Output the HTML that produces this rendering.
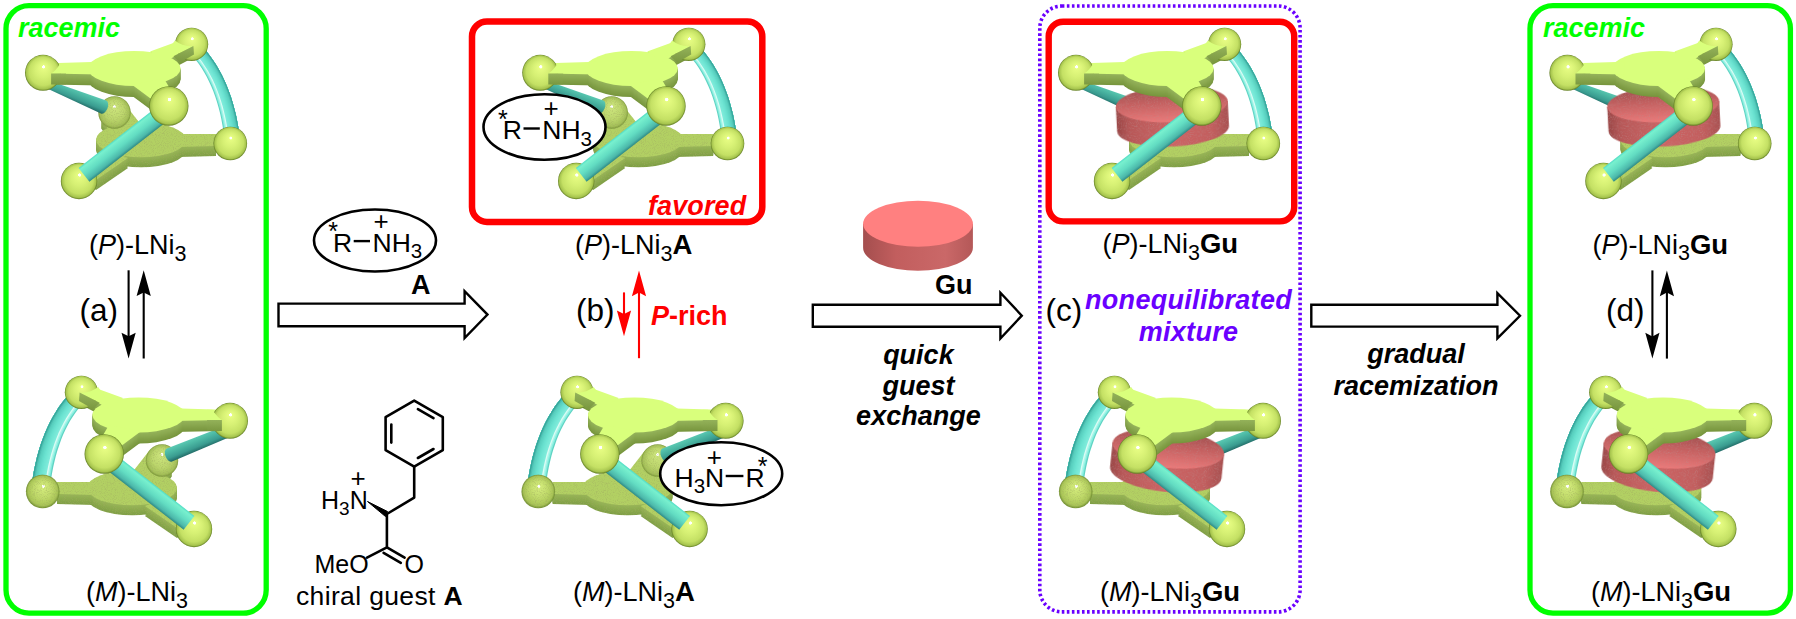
<!DOCTYPE html>
<html><head><meta charset="utf-8">
<style>
html,body{margin:0;padding:0;background:#fff;overflow:hidden;}
svg{display:block;}
text{font-family:"Liberation Sans",sans-serif;}
</style></head>
<body>
<svg width="1796" height="619" viewBox="0 0 1796 619">
<rect width="1796" height="619" fill="#fff"/>

<defs>

<radialGradient id="sph" cx="0.5" cy="0.5" r="0.5" fx="0.52" fy="0.32">
  <stop offset="0" stop-color="#ffffff"/>
  <stop offset="0.075" stop-color="#ffffff"/>
  <stop offset="0.1" stop-color="#e6fc82"/>
  <stop offset="0.45" stop-color="#d6f074"/>
  <stop offset="0.78" stop-color="#c4e064"/>
  <stop offset="0.93" stop-color="#a6c44e"/>
  <stop offset="1" stop-color="#607c22"/>
</radialGradient>
<radialGradient id="sphB" cx="0.5" cy="0.5" r="0.5" fx="0.5" fy="0.3">
  <stop offset="0" stop-color="#ffffff"/>
  <stop offset="0.07" stop-color="#ffffff"/>
  <stop offset="0.1" stop-color="#cce47c"/>
  <stop offset="0.6" stop-color="#bcd66c"/>
  <stop offset="0.9" stop-color="#a4c058"/>
  <stop offset="1" stop-color="#7a9638"/>
</radialGradient>
<radialGradient id="sphM" cx="0.5" cy="0.5" r="0.5" fx="0.52" fy="0.33">
  <stop offset="0" stop-color="#ffffff"/>
  <stop offset="0.075" stop-color="#ffffff"/>
  <stop offset="0.1" stop-color="#d4ec7c"/>
  <stop offset="0.55" stop-color="#c0da6a"/>
  <stop offset="0.88" stop-color="#a8c456"/>
  <stop offset="1" stop-color="#6e8c30"/>
</radialGradient>
<linearGradient id="sideG" x1="0" y1="0" x2="0" y2="1">
  <stop offset="0" stop-color="#94b25a"/>
  <stop offset="1" stop-color="#7a9840"/>
</linearGradient>
<linearGradient id="tubeF" x1="0" y1="0" x2="0" y2="1">
  <stop offset="0" stop-color="#50dcc6"/>
  <stop offset="0.12" stop-color="#78f0ce"/>
  <stop offset="0.5" stop-color="#62dcc2"/>
  <stop offset="0.84" stop-color="#4cb8aa"/>
  <stop offset="1" stop-color="#2e8a86"/>
</linearGradient>
<linearGradient id="tubeB" x1="0" y1="0" x2="0" y2="1">
  <stop offset="0" stop-color="#5ccab4"/>
  <stop offset="0.3" stop-color="#4cb8a4"/>
  <stop offset="0.7" stop-color="#3a9c90"/>
  <stop offset="1" stop-color="#226a66"/>
</linearGradient>
<filter id="grain" x="0" y="0" width="1" height="1">
  <feTurbulence type="fractalNoise" baseFrequency="1.1" numOctaves="1" seed="4" result="n"/>
  <feColorMatrix in="n" type="matrix" values="0 0 0 0 0.35  0 0 0 0 0.4  0 0 0 0 0.12  0 0 0 -1.6 0.85" result="a"/>
  <feComposite in="a" in2="SourceGraphic" operator="in" result="d"/>
  <feMerge><feMergeNode in="SourceGraphic"/><feMergeNode in="d"/></feMerge>
</filter>
<filter id="grainR" x="0" y="0" width="1" height="1">
  <feTurbulence type="fractalNoise" baseFrequency="1.1" numOctaves="1" seed="7" result="n"/>
  <feColorMatrix in="n" type="matrix" values="0 0 0 0 0.5  0 0 0 0 0.25  0 0 0 0 0.25  0 0 0 -1.6 0.8" result="a"/>
  <feComposite in="a" in2="SourceGraphic" operator="in" result="d"/>
  <feMerge><feMergeNode in="SourceGraphic"/><feMergeNode in="d"/></feMerge>
</filter>
<linearGradient id="guSide" x1="0" y1="0" x2="1" y2="0">
  <stop offset="0" stop-color="#a44e4e"/>
  <stop offset="0.3" stop-color="#c25e5e"/>
  <stop offset="0.75" stop-color="#ca6868"/>
  <stop offset="1" stop-color="#b45858"/>
</linearGradient>
<linearGradient id="guSideI" x1="0" y1="0" x2="1" y2="0">
  <stop offset="0" stop-color="#9a4646"/>
  <stop offset="0.12" stop-color="#b85858"/>
  <stop offset="0.5" stop-color="#cc6464"/>
  <stop offset="0.85" stop-color="#c25e5e"/>
  <stop offset="1" stop-color="#a85050"/>
</linearGradient>
<linearGradient id="guTop" x1="0" y1="0" x2="0" y2="1">
  <stop offset="0" stop-color="#9c4c4c"/>
  <stop offset="0.45" stop-color="#c46060"/>
  <stop offset="1" stop-color="#ec7a7a"/>
</linearGradient>

<g id="topP">
<ellipse cx="134.3" cy="68.5" rx="46.3" ry="17.5"/>
<path d="M50 63.2L100 61.8L100 74.6L50 73.5Z"/>
<path d="M150 51.5L177.5 41.4L193.5 46.5L174.5 56.5L165 62Z"/>
<path d="M132 84.8L164 78.5L172 92L150.5 98.5Z"/>
</g>
<g id="botP">
<ellipse cx="141" cy="139.8" rx="45" ry="17.5"/>
<path d="M178 134L216 134L216 145.9L178 147Z"/>
<path d="M101 118L124 103L142 126L112 135Z"/>
<path d="M106 149L128 158L96 180L80 170Z"/>
</g>
<g id="topM">
<ellipse cx="138.7" cy="68.5" rx="46.3" ry="17.5"/>
<path d="M223 63.2L173 61.8L173 74.6L223 73.5Z"/>
<path d="M123 51.5L95.5 41.4L79.5 46.5L98.5 56.5L108 62Z"/>
<path d="M141 84.8L109 78.5L101 92L122.5 98.5Z"/>
</g>
<g id="botM">
<ellipse cx="132" cy="139.8" rx="45" ry="17.5"/>
<path d="M95 134L57 134L57 145.9L95 147Z"/>
<path d="M172 118L149 103L131 126L161 135Z"/>
<path d="M167 149L145 158L177 180L193 170Z"/>
</g>
<g id="molP">
<g filter="url(#grain)">
<use href="#botP" fill="#80a046" y="10"/>
<use href="#botP" fill="#82a248" y="9"/>
<use href="#botP" fill="#85a44a" y="8"/>
<use href="#botP" fill="#87a74b" y="7"/>
<use href="#botP" fill="#8aa94d" y="6"/>
<use href="#botP" fill="#8cab4f" y="5"/>
<use href="#botP" fill="#8fad51" y="4"/>
<use href="#botP" fill="#91b052" y="3"/>
<use href="#botP" fill="#94b254" y="2"/>
<use href="#botP" fill="#96b456" y="1"/>
<use href="#botP" fill="#b2d064"/>
</g>
<circle cx="114.5" cy="112.5" r="16.2" fill="url(#sphB)" filter="url(#grain)"/>
<g transform="translate(46,83.6) rotate(22.14)"><path d="M0 -4L62.1 -7A4.2 7 0 0 1 62.1 7L0 4Z" fill="url(#tubeB)"/></g>
<path d="M192.9 56.5L196 60.2L198.9 64.1L201.6 68.1L204.3 72.4L206.7 76.8L209 81.4L211.2 86.2L213.3 91.2L215.2 96.4L216.9 101.7L218.5 107.3L220 113.1L221.3 119L222.4 125.1L223.5 131.5L224.3 138L239.7 136L238.6 129.1L237.4 122.4L236.1 115.8L234.5 109.4L232.8 103.3L231 97.3L228.9 91.4L226.7 85.8L224.4 80.4L221.8 75.1L219.1 70L216.2 65.1L213.2 60.4L210 55.9L206.6 51.6L203.1 47.5Z" fill="#60d3c3"/>
<path d="M193.7 55.8L196.7 59.6L199.7 63.5L202.5 67.6L205.1 71.8L207.6 76.3L210 81L212.2 85.8L214.2 90.8L216.1 96L217.9 101.4L219.5 107L221 112.8L222.3 118.8L223.5 124.9L224.5 131.3L225.4 137.8L239.7 136L238.6 129.1L237.4 122.4L236.1 115.8L234.5 109.4L232.8 103.3L231 97.3L228.9 91.4L226.7 85.8L224.4 80.4L221.8 75.1L219.1 70L216.2 65.1L213.2 60.4L210 55.9L206.6 51.6L203.1 47.5Z" fill="#86eedf"/>
<path d="M194.4 55.2L197.5 59L200.5 62.9L203.3 67L206 71.3L208.5 75.8L210.9 80.5L213.1 85.4L215.2 90.4L217.1 95.7L218.9 101.1L220.6 106.7L222 112.5L223.4 118.5L224.6 124.7L225.6 131.1L226.5 137.7L239.7 136L238.6 129.1L237.4 122.4L236.1 115.8L234.5 109.4L232.8 103.3L231 97.3L228.9 91.4L226.7 85.8L224.4 80.4L221.8 75.1L219.1 70L216.2 65.1L213.2 60.4L210 55.9L206.6 51.6L203.1 47.5Z" fill="#adf7ea"/>
<path d="M195.1 54.6L198.3 58.3L201.3 62.3L204.1 66.5L206.8 70.8L209.4 75.3L211.8 80.1L214 85L216.2 90L218.1 95.3L219.9 100.8L221.6 106.4L223.1 112.3L224.4 118.3L225.7 124.5L226.7 131L227.6 137.6L239.7 136L238.6 129.1L237.4 122.4L236.1 115.8L234.5 109.4L232.8 103.3L231 97.3L228.9 91.4L226.7 85.8L224.4 80.4L221.8 75.1L219.1 70L216.2 65.1L213.2 60.4L210 55.9L206.6 51.6L203.1 47.5Z" fill="#dcfcf5"/>
<path d="M195.8 53.9L199 57.7L202.1 61.7L204.9 65.9L207.7 70.3L210.3 74.9L212.7 79.6L215 84.5L217.1 89.7L219.1 95L220.9 100.5L222.6 106.1L224.1 112L225.5 118.1L226.7 124.3L227.8 130.8L228.7 137.4L239.7 136L238.6 129.1L237.4 122.4L236.1 115.8L234.5 109.4L232.8 103.3L231 97.3L228.9 91.4L226.7 85.8L224.4 80.4L221.8 75.1L219.1 70L216.2 65.1L213.2 60.4L210 55.9L206.6 51.6L203.1 47.5Z" fill="#7eebdb"/>
<path d="M196.6 53.3L199.8 57.1L202.9 61.2L205.8 65.4L208.5 69.8L211.2 74.4L213.6 79.2L215.9 84.1L218.1 89.3L220.1 94.6L221.9 100.1L223.6 105.9L225.2 111.8L226.6 117.9L227.8 124.1L228.9 130.6L229.8 137.3L239.7 136L238.6 129.1L237.4 122.4L236.1 115.8L234.5 109.4L232.8 103.3L231 97.3L228.9 91.4L226.7 85.8L224.4 80.4L221.8 75.1L219.1 70L216.2 65.1L213.2 60.4L210 55.9L206.6 51.6L203.1 47.5Z" fill="#79e9d8"/>
<path d="M197.3 52.6L200.5 56.5L203.6 60.6L206.6 64.8L209.4 69.3L212 73.9L214.5 78.7L216.9 83.7L219 88.9L221.1 94.3L222.9 99.8L224.6 105.6L226.2 111.5L227.6 117.6L228.9 123.9L230 130.5L230.9 137.1L239.7 136L238.6 129.1L237.4 122.4L236.1 115.8L234.5 109.4L232.8 103.3L231 97.3L228.9 91.4L226.7 85.8L224.4 80.4L221.8 75.1L219.1 70L216.2 65.1L213.2 60.4L210 55.9L206.6 51.6L203.1 47.5Z" fill="#74e7d5"/>
<path d="M198 52L201.3 55.9L204.4 60L207.4 64.3L210.2 68.8L212.9 73.4L215.4 78.2L217.8 83.3L220 88.5L222 93.9L223.9 99.5L225.7 105.3L227.2 111.2L228.7 117.4L229.9 123.8L231 130.3L232 137L239.7 136L238.6 129.1L237.4 122.4L236.1 115.8L234.5 109.4L232.8 103.3L231 97.3L228.9 91.4L226.7 85.8L224.4 80.4L221.8 75.1L219.1 70L216.2 65.1L213.2 60.4L210 55.9L206.6 51.6L203.1 47.5Z" fill="#6fe4d3"/>
<path d="M198.7 51.4L202.1 55.3L205.2 59.4L208.2 63.7L211.1 68.2L213.8 72.9L216.4 77.8L218.7 82.9L221 88.1L223 93.6L224.9 99.2L226.7 105L228.3 111L229.7 117.2L231 123.6L232.1 130.1L233.1 136.9L239.7 136L238.6 129.1L237.4 122.4L236.1 115.8L234.5 109.4L232.8 103.3L231 97.3L228.9 91.4L226.7 85.8L224.4 80.4L221.8 75.1L219.1 70L216.2 65.1L213.2 60.4L210 55.9L206.6 51.6L203.1 47.5Z" fill="#69e1cf"/>
<path d="M199.4 50.7L202.8 54.7L206 58.8L209.1 63.2L212 67.7L214.7 72.4L217.3 77.3L219.7 82.4L221.9 87.7L224 93.2L225.9 98.9L227.7 104.7L229.3 110.7L230.8 117L232.1 123.4L233.2 129.9L234.2 136.7L239.7 136L238.6 129.1L237.4 122.4L236.1 115.8L234.5 109.4L232.8 103.3L231 97.3L228.9 91.4L226.7 85.8L224.4 80.4L221.8 75.1L219.1 70L216.2 65.1L213.2 60.4L210 55.9L206.6 51.6L203.1 47.5Z" fill="#64dbca"/>
<path d="M200.2 50.1L203.6 54.1L206.8 58.3L209.9 62.6L212.8 67.2L215.6 72L218.2 76.9L220.6 82L222.9 87.3L225 92.9L226.9 98.5L228.7 104.4L230.4 110.5L231.8 116.7L233.2 123.2L234.3 129.8L235.3 136.6L239.7 136L238.6 129.1L237.4 122.4L236.1 115.8L234.5 109.4L232.8 103.3L231 97.3L228.9 91.4L226.7 85.8L224.4 80.4L221.8 75.1L219.1 70L216.2 65.1L213.2 60.4L210 55.9L206.6 51.6L203.1 47.5Z" fill="#5ed5c4"/>
<path d="M200.9 49.4L204.3 53.5L207.6 57.7L210.7 62.1L213.7 66.7L216.5 71.5L219.1 76.4L221.5 81.6L223.8 87L226 92.5L228 98.2L229.8 104.1L231.4 110.2L232.9 116.5L234.2 123L235.4 129.6L236.4 136.4L239.7 136L238.6 129.1L237.4 122.4L236.1 115.8L234.5 109.4L232.8 103.3L231 97.3L228.9 91.4L226.7 85.8L224.4 80.4L221.8 75.1L219.1 70L216.2 65.1L213.2 60.4L210 55.9L206.6 51.6L203.1 47.5Z" fill="#59cfbf"/>
<path d="M201.6 48.8L205.1 52.9L208.4 57.1L211.5 61.5L214.5 66.2L217.3 71L220 76L222.5 81.2L224.8 86.6L227 92.1L229 97.9L230.8 103.8L232.5 110L234 116.3L235.3 122.8L236.5 129.4L237.5 136.3L239.7 136L238.6 129.1L237.4 122.4L236.1 115.8L234.5 109.4L232.8 103.3L231 97.3L228.9 91.4L226.7 85.8L224.4 80.4L221.8 75.1L219.1 70L216.2 65.1L213.2 60.4L210 55.9L206.6 51.6L203.1 47.5Z" fill="#4dc0b2"/>
<path d="M202.3 48.2L205.8 52.2L209.2 56.5L212.4 61L215.4 65.7L218.2 70.5L220.9 75.5L223.4 80.8L225.8 86.2L227.9 91.8L230 97.6L231.8 103.6L233.5 109.7L235 116L236.4 122.6L237.6 129.3L238.6 136.2L239.7 136L238.6 129.1L237.4 122.4L236.1 115.8L234.5 109.4L232.8 103.3L231 97.3L228.9 91.4L226.7 85.8L224.4 80.4L221.8 75.1L219.1 70L216.2 65.1L213.2 60.4L210 55.9L206.6 51.6L203.1 47.5Z" fill="#38a59b"/>
<circle cx="230.3" cy="143.5" r="16.8" fill="url(#sph)"/>
<circle cx="79" cy="181" r="18.2" fill="url(#sph)"/>
<g>
<g>
<use href="#topP" fill="#78963e" y="11"/>
<use href="#topP" fill="#7b9941" y="10"/>
<use href="#topP" fill="#7e9c44" y="9"/>
<use href="#topP" fill="#809e46" y="8"/>
<use href="#topP" fill="#83a149" y="7"/>
<use href="#topP" fill="#86a44c" y="6"/>
<use href="#topP" fill="#89a74f" y="5"/>
<use href="#topP" fill="#8caa52" y="4"/>
<use href="#topP" fill="#8eac54" y="3"/>
<use href="#topP" fill="#91af57" y="2"/>
<use href="#topP" fill="#94b25a" y="1"/>
<use href="#topP" fill="#d9ff7c"/>
</g>
</g>
<circle cx="43" cy="72.8" r="18.0" fill="url(#sph)"/>
<circle cx="191.6" cy="44.3" r="16.6" fill="url(#sph)"/>
<g>
<path d="M60.6 63.2Q55.5 71 51.1 73.5L66 74L66 63.2Z" fill="#d9ff7c"/>
<path d="M51.1 73.4L66 73.6L66 84.5L51.1 84.5Z" fill="url(#sideG)"/>
<path d="M174.9 40.6Q183 47 193.4 46.1L173.4 56.2L168 50Z" fill="#d9ff7c"/>
<path d="M173.4 56.2L193.4 46.1L194 54.5L180 62.5Z" fill="url(#sideG)"/>
</g>
<g transform="translate(164,112.5) rotate(142.09) scale(1,-1)"><rect x="0" y="-8.75" width="101.4" height="17.5" fill="url(#tubeF)"/></g>
<circle cx="168.8" cy="106" r="19.7" fill="url(#sph)"/>
</g>
<g id="molM">
<g filter="url(#grain)">
<use href="#botM" fill="#80a046" y="10"/>
<use href="#botM" fill="#82a248" y="9"/>
<use href="#botM" fill="#85a44a" y="8"/>
<use href="#botM" fill="#87a74b" y="7"/>
<use href="#botM" fill="#8aa94d" y="6"/>
<use href="#botM" fill="#8cab4f" y="5"/>
<use href="#botM" fill="#8fad51" y="4"/>
<use href="#botM" fill="#91b052" y="3"/>
<use href="#botM" fill="#94b254" y="2"/>
<use href="#botM" fill="#96b456" y="1"/>
<use href="#botM" fill="#b2d064"/>
</g>
<g transform="translate(3.5,0)"><circle cx="158.5" cy="112.5" r="16.2" fill="url(#sphB)" filter="url(#grain)"/></g>
<g transform="translate(227,83.6) rotate(157.86) scale(1,-1)"><path d="M0 -6L62.1 -7A4.2 7 0 0 1 62.1 7L0 6Z" fill="url(#tubeB)"/></g>
<path d="M81.2 57.5L78.2 61.1L75.3 64.9L72.6 68.9L70 73.1L67.6 77.5L65.3 82.1L63.1 86.8L61.1 91.7L59.3 96.9L57.5 102.2L55.9 107.7L54.5 113.4L53.2 119.3L52 125.4L51 131.7L50.2 138.2L31.8 135.8L32.9 128.9L34.1 122.1L35.5 115.5L37 109.1L38.7 102.9L40.6 96.8L42.7 90.9L44.9 85.3L47.3 79.7L49.8 74.4L52.6 69.3L55.5 64.4L58.5 59.6L61.8 55.1L65.2 50.7L68.8 46.5Z" fill="#60d3c3"/>
<path d="M80.3 56.7L77.3 60.4L74.4 64.2L71.6 68.3L69 72.5L66.5 76.9L64.2 81.5L62 86.3L60 91.3L58.1 96.5L56.3 101.8L54.7 107.4L53.2 113.1L51.9 119L50.8 125.2L49.7 131.5L48.9 138L31.8 135.8L32.9 128.9L34.1 122.1L35.5 115.5L37 109.1L38.7 102.9L40.6 96.8L42.7 90.9L44.9 85.3L47.3 79.7L49.8 74.4L52.6 69.3L55.5 64.4L58.5 59.6L61.8 55.1L65.2 50.7L68.8 46.5Z" fill="#86eedf"/>
<path d="M79.4 55.9L76.3 59.6L73.4 63.5L70.6 67.6L67.9 71.9L65.4 76.3L63.1 81L60.9 85.8L58.8 90.8L56.9 96L55.1 101.4L53.5 107L52 112.8L50.7 118.8L49.5 124.9L48.4 131.3L47.6 137.8L31.8 135.8L32.9 128.9L34.1 122.1L35.5 115.5L37 109.1L38.7 102.9L40.6 96.8L42.7 90.9L44.9 85.3L47.3 79.7L49.8 74.4L52.6 69.3L55.5 64.4L58.5 59.6L61.8 55.1L65.2 50.7L68.8 46.5Z" fill="#adf7ea"/>
<path d="M78.5 55.1L75.4 58.9L72.4 62.8L69.6 66.9L66.9 71.3L64.4 75.8L62 80.4L59.7 85.3L57.6 90.4L55.7 95.6L53.9 101L52.2 106.7L50.7 112.5L49.4 118.5L48.2 124.7L47.1 131.1L46.2 137.7L31.8 135.8L32.9 128.9L34.1 122.1L35.5 115.5L37 109.1L38.7 102.9L40.6 96.8L42.7 90.9L44.9 85.3L47.3 79.7L49.8 74.4L52.6 69.3L55.5 64.4L58.5 59.6L61.8 55.1L65.2 50.7L68.8 46.5Z" fill="#dcfcf5"/>
<path d="M77.6 54.3L74.5 58.1L71.5 62.1L68.6 66.3L65.9 70.6L63.3 75.2L60.9 79.9L58.6 84.8L56.5 89.9L54.5 95.2L52.7 100.7L51 106.3L49.5 112.2L48.1 118.2L46.9 124.5L45.8 130.9L44.9 137.5L31.8 135.8L32.9 128.9L34.1 122.1L35.5 115.5L37 109.1L38.7 102.9L40.6 96.8L42.7 90.9L44.9 85.3L47.3 79.7L49.8 74.4L52.6 69.3L55.5 64.4L58.5 59.6L61.8 55.1L65.2 50.7L68.8 46.5Z" fill="#7eebdb"/>
<path d="M76.8 53.6L73.6 57.4L70.5 61.4L67.6 65.6L64.8 70L62.2 74.6L59.8 79.3L57.5 84.3L55.3 89.4L53.3 94.8L51.5 100.3L49.8 106L48.2 111.9L46.9 118L45.6 124.2L44.5 130.7L43.6 137.3L31.8 135.8L32.9 128.9L34.1 122.1L35.5 115.5L37 109.1L38.7 102.9L40.6 96.8L42.7 90.9L44.9 85.3L47.3 79.7L49.8 74.4L52.6 69.3L55.5 64.4L58.5 59.6L61.8 55.1L65.2 50.7L68.8 46.5Z" fill="#79e9d8"/>
<path d="M75.9 52.8L72.6 56.7L69.5 60.7L66.6 64.9L63.8 69.4L61.2 74L58.7 78.8L56.3 83.8L54.2 89L52.1 94.3L50.3 99.9L48.6 105.6L47 111.6L45.6 117.7L44.3 124L43.3 130.5L42.3 137.2L31.8 135.8L32.9 128.9L34.1 122.1L35.5 115.5L37 109.1L38.7 102.9L40.6 96.8L42.7 90.9L44.9 85.3L47.3 79.7L49.8 74.4L52.6 69.3L55.5 64.4L58.5 59.6L61.8 55.1L65.2 50.7L68.8 46.5Z" fill="#74e7d5"/>
<path d="M75 52L71.7 55.9L68.6 60L65.6 64.3L62.8 68.8L60.1 73.4L57.6 78.2L55.2 83.3L53 88.5L51 93.9L49.1 99.5L47.3 105.3L45.8 111.2L44.3 117.4L43.1 123.8L42 130.3L41 137L31.8 135.8L32.9 128.9L34.1 122.1L35.5 115.5L37 109.1L38.7 102.9L40.6 96.8L42.7 90.9L44.9 85.3L47.3 79.7L49.8 74.4L52.6 69.3L55.5 64.4L58.5 59.6L61.8 55.1L65.2 50.7L68.8 46.5Z" fill="#6fe4d3"/>
<path d="M74.1 51.2L70.8 55.2L67.6 59.3L64.6 63.6L61.7 68.1L59 72.8L56.5 77.7L54.1 82.8L51.8 88L49.8 93.5L47.9 99.1L46.1 104.9L44.5 110.9L43.1 117.1L41.8 123.5L40.7 130.1L39.7 136.8L31.8 135.8L32.9 128.9L34.1 122.1L35.5 115.5L37 109.1L38.7 102.9L40.6 96.8L42.7 90.9L44.9 85.3L47.3 79.7L49.8 74.4L52.6 69.3L55.5 64.4L58.5 59.6L61.8 55.1L65.2 50.7L68.8 46.5Z" fill="#69e1cf"/>
<path d="M73.2 50.4L69.9 54.4L66.6 58.6L63.6 62.9L60.7 67.5L57.9 72.2L55.4 77.2L52.9 82.3L50.7 87.6L48.6 93.1L46.6 98.7L44.9 104.6L43.3 110.6L41.8 116.9L40.5 123.3L39.4 129.9L38.4 136.7L31.8 135.8L32.9 128.9L34.1 122.1L35.5 115.5L37 109.1L38.7 102.9L40.6 96.8L42.7 90.9L44.9 85.3L47.3 79.7L49.8 74.4L52.6 69.3L55.5 64.4L58.5 59.6L61.8 55.1L65.2 50.7L68.8 46.5Z" fill="#64dbca"/>
<path d="M72.4 49.7L68.9 53.7L65.7 57.9L62.6 62.3L59.6 66.9L56.9 71.6L54.2 76.6L51.8 81.8L49.5 87.1L47.4 92.6L45.4 98.3L43.6 104.2L42 110.3L40.5 116.6L39.2 123L38.1 129.7L37.1 136.5L31.8 135.8L32.9 128.9L34.1 122.1L35.5 115.5L37 109.1L38.7 102.9L40.6 96.8L42.7 90.9L44.9 85.3L47.3 79.7L49.8 74.4L52.6 69.3L55.5 64.4L58.5 59.6L61.8 55.1L65.2 50.7L68.8 46.5Z" fill="#5ed5c4"/>
<path d="M71.5 48.9L68 52.9L64.7 57.2L61.6 61.6L58.6 66.2L55.8 71.1L53.1 76.1L50.7 81.3L48.4 86.6L46.2 92.2L44.2 98L42.4 103.9L40.8 110L39.3 116.3L37.9 122.8L36.8 129.5L35.8 136.3L31.8 135.8L32.9 128.9L34.1 122.1L35.5 115.5L37 109.1L38.7 102.9L40.6 96.8L42.7 90.9L44.9 85.3L47.3 79.7L49.8 74.4L52.6 69.3L55.5 64.4L58.5 59.6L61.8 55.1L65.2 50.7L68.8 46.5Z" fill="#59cfbf"/>
<path d="M70.6 48.1L67.1 52.2L63.7 56.5L60.6 60.9L57.6 65.6L54.7 70.5L52 75.5L49.5 80.8L47.2 86.2L45 91.8L43 97.6L41.2 103.5L39.5 109.7L38 116L36.7 122.6L35.5 129.3L34.4 136.2L31.8 135.8L32.9 128.9L34.1 122.1L35.5 115.5L37 109.1L38.7 102.9L40.6 96.8L42.7 90.9L44.9 85.3L47.3 79.7L49.8 74.4L52.6 69.3L55.5 64.4L58.5 59.6L61.8 55.1L65.2 50.7L68.8 46.5Z" fill="#4dc0b2"/>
<path d="M69.7 47.3L66.2 51.4L62.8 55.8L59.6 60.3L56.5 65L53.6 69.9L50.9 75L48.4 80.3L46 85.7L43.8 91.4L41.8 97.2L40 103.2L38.3 109.4L36.7 115.8L35.4 122.3L34.2 129.1L33.1 136L31.8 135.8L32.9 128.9L34.1 122.1L35.5 115.5L37 109.1L38.7 102.9L40.6 96.8L42.7 90.9L44.9 85.3L47.3 79.7L49.8 74.4L52.6 69.3L55.5 64.4L58.5 59.6L61.8 55.1L65.2 50.7L68.8 46.5Z" fill="#38a59b"/>
<circle cx="42.7" cy="143.5" r="16.8" fill="url(#sphM)" filter="url(#grain)"/>
<circle cx="194" cy="181" r="18.2" fill="url(#sph)"/>
<g transform="translate(0,-1.5)">
<g>
<use href="#topM" fill="#78963e" y="11"/>
<use href="#topM" fill="#7b9941" y="10"/>
<use href="#topM" fill="#7e9c44" y="9"/>
<use href="#topM" fill="#809e46" y="8"/>
<use href="#topM" fill="#83a149" y="7"/>
<use href="#topM" fill="#86a44c" y="6"/>
<use href="#topM" fill="#89a74f" y="5"/>
<use href="#topM" fill="#8caa52" y="4"/>
<use href="#topM" fill="#8eac54" y="3"/>
<use href="#topM" fill="#91af57" y="2"/>
<use href="#topM" fill="#94b25a" y="1"/>
<use href="#topM" fill="#d9ff7c"/>
</g>
</g>
<circle cx="230" cy="72.8" r="18.0" fill="url(#sph)"/>
<circle cx="81.4" cy="44.3" r="16.6" fill="url(#sph)"/>
<g transform="translate(0,-1.5)">
<path d="M212.4 63.2Q217.5 71 221.9 73.5L207 74L207 63.2Z" fill="#d9ff7c"/>
<path d="M221.9 73.4L207 73.6L207 84.5L221.9 84.5Z" fill="url(#sideG)"/>
<path d="M98.1 40.6Q90 47 79.6 46.1L99.6 56.2L105 50Z" fill="#d9ff7c"/>
<path d="M99.6 56.2L79.6 46.1L79 54.5L93 62.5Z" fill="url(#sideG)"/>
</g>
<g transform="translate(109,112.5) rotate(37.91)"><rect x="0" y="-8.75" width="101.4" height="17.5" fill="url(#tubeF)"/></g>
<circle cx="104.2" cy="106" r="19.7" fill="url(#sph)"/>
</g>
<g id="molPg">
<g filter="url(#grain)">
<use href="#botP" fill="#80a046" y="10"/>
<use href="#botP" fill="#82a248" y="9"/>
<use href="#botP" fill="#85a44a" y="8"/>
<use href="#botP" fill="#87a74b" y="7"/>
<use href="#botP" fill="#8aa94d" y="6"/>
<use href="#botP" fill="#8cab4f" y="5"/>
<use href="#botP" fill="#8fad51" y="4"/>
<use href="#botP" fill="#91b052" y="3"/>
<use href="#botP" fill="#94b254" y="2"/>
<use href="#botP" fill="#96b456" y="1"/>
<use href="#botP" fill="#b2d064"/>
</g>
<g transform="translate(46,83.6) rotate(22.14)"><path d="M0 -4L62.1 -7A4.2 7 0 0 1 62.1 7L0 4Z" fill="url(#tubeB)"/></g>
<path d="M192.9 56.5L196 60.2L198.9 64.1L201.6 68.1L204.3 72.4L206.7 76.8L209 81.4L211.2 86.2L213.3 91.2L215.2 96.4L216.9 101.7L218.5 107.3L220 113.1L221.3 119L222.4 125.1L223.5 131.5L224.3 138L239.7 136L238.6 129.1L237.4 122.4L236.1 115.8L234.5 109.4L232.8 103.3L231 97.3L228.9 91.4L226.7 85.8L224.4 80.4L221.8 75.1L219.1 70L216.2 65.1L213.2 60.4L210 55.9L206.6 51.6L203.1 47.5Z" fill="#60d3c3"/>
<path d="M193.7 55.8L196.7 59.6L199.7 63.5L202.5 67.6L205.1 71.8L207.6 76.3L210 81L212.2 85.8L214.2 90.8L216.1 96L217.9 101.4L219.5 107L221 112.8L222.3 118.8L223.5 124.9L224.5 131.3L225.4 137.8L239.7 136L238.6 129.1L237.4 122.4L236.1 115.8L234.5 109.4L232.8 103.3L231 97.3L228.9 91.4L226.7 85.8L224.4 80.4L221.8 75.1L219.1 70L216.2 65.1L213.2 60.4L210 55.9L206.6 51.6L203.1 47.5Z" fill="#86eedf"/>
<path d="M194.4 55.2L197.5 59L200.5 62.9L203.3 67L206 71.3L208.5 75.8L210.9 80.5L213.1 85.4L215.2 90.4L217.1 95.7L218.9 101.1L220.6 106.7L222 112.5L223.4 118.5L224.6 124.7L225.6 131.1L226.5 137.7L239.7 136L238.6 129.1L237.4 122.4L236.1 115.8L234.5 109.4L232.8 103.3L231 97.3L228.9 91.4L226.7 85.8L224.4 80.4L221.8 75.1L219.1 70L216.2 65.1L213.2 60.4L210 55.9L206.6 51.6L203.1 47.5Z" fill="#adf7ea"/>
<path d="M195.1 54.6L198.3 58.3L201.3 62.3L204.1 66.5L206.8 70.8L209.4 75.3L211.8 80.1L214 85L216.2 90L218.1 95.3L219.9 100.8L221.6 106.4L223.1 112.3L224.4 118.3L225.7 124.5L226.7 131L227.6 137.6L239.7 136L238.6 129.1L237.4 122.4L236.1 115.8L234.5 109.4L232.8 103.3L231 97.3L228.9 91.4L226.7 85.8L224.4 80.4L221.8 75.1L219.1 70L216.2 65.1L213.2 60.4L210 55.9L206.6 51.6L203.1 47.5Z" fill="#dcfcf5"/>
<path d="M195.8 53.9L199 57.7L202.1 61.7L204.9 65.9L207.7 70.3L210.3 74.9L212.7 79.6L215 84.5L217.1 89.7L219.1 95L220.9 100.5L222.6 106.1L224.1 112L225.5 118.1L226.7 124.3L227.8 130.8L228.7 137.4L239.7 136L238.6 129.1L237.4 122.4L236.1 115.8L234.5 109.4L232.8 103.3L231 97.3L228.9 91.4L226.7 85.8L224.4 80.4L221.8 75.1L219.1 70L216.2 65.1L213.2 60.4L210 55.9L206.6 51.6L203.1 47.5Z" fill="#7eebdb"/>
<path d="M196.6 53.3L199.8 57.1L202.9 61.2L205.8 65.4L208.5 69.8L211.2 74.4L213.6 79.2L215.9 84.1L218.1 89.3L220.1 94.6L221.9 100.1L223.6 105.9L225.2 111.8L226.6 117.9L227.8 124.1L228.9 130.6L229.8 137.3L239.7 136L238.6 129.1L237.4 122.4L236.1 115.8L234.5 109.4L232.8 103.3L231 97.3L228.9 91.4L226.7 85.8L224.4 80.4L221.8 75.1L219.1 70L216.2 65.1L213.2 60.4L210 55.9L206.6 51.6L203.1 47.5Z" fill="#79e9d8"/>
<path d="M197.3 52.6L200.5 56.5L203.6 60.6L206.6 64.8L209.4 69.3L212 73.9L214.5 78.7L216.9 83.7L219 88.9L221.1 94.3L222.9 99.8L224.6 105.6L226.2 111.5L227.6 117.6L228.9 123.9L230 130.5L230.9 137.1L239.7 136L238.6 129.1L237.4 122.4L236.1 115.8L234.5 109.4L232.8 103.3L231 97.3L228.9 91.4L226.7 85.8L224.4 80.4L221.8 75.1L219.1 70L216.2 65.1L213.2 60.4L210 55.9L206.6 51.6L203.1 47.5Z" fill="#74e7d5"/>
<path d="M198 52L201.3 55.9L204.4 60L207.4 64.3L210.2 68.8L212.9 73.4L215.4 78.2L217.8 83.3L220 88.5L222 93.9L223.9 99.5L225.7 105.3L227.2 111.2L228.7 117.4L229.9 123.8L231 130.3L232 137L239.7 136L238.6 129.1L237.4 122.4L236.1 115.8L234.5 109.4L232.8 103.3L231 97.3L228.9 91.4L226.7 85.8L224.4 80.4L221.8 75.1L219.1 70L216.2 65.1L213.2 60.4L210 55.9L206.6 51.6L203.1 47.5Z" fill="#6fe4d3"/>
<path d="M198.7 51.4L202.1 55.3L205.2 59.4L208.2 63.7L211.1 68.2L213.8 72.9L216.4 77.8L218.7 82.9L221 88.1L223 93.6L224.9 99.2L226.7 105L228.3 111L229.7 117.2L231 123.6L232.1 130.1L233.1 136.9L239.7 136L238.6 129.1L237.4 122.4L236.1 115.8L234.5 109.4L232.8 103.3L231 97.3L228.9 91.4L226.7 85.8L224.4 80.4L221.8 75.1L219.1 70L216.2 65.1L213.2 60.4L210 55.9L206.6 51.6L203.1 47.5Z" fill="#69e1cf"/>
<path d="M199.4 50.7L202.8 54.7L206 58.8L209.1 63.2L212 67.7L214.7 72.4L217.3 77.3L219.7 82.4L221.9 87.7L224 93.2L225.9 98.9L227.7 104.7L229.3 110.7L230.8 117L232.1 123.4L233.2 129.9L234.2 136.7L239.7 136L238.6 129.1L237.4 122.4L236.1 115.8L234.5 109.4L232.8 103.3L231 97.3L228.9 91.4L226.7 85.8L224.4 80.4L221.8 75.1L219.1 70L216.2 65.1L213.2 60.4L210 55.9L206.6 51.6L203.1 47.5Z" fill="#64dbca"/>
<path d="M200.2 50.1L203.6 54.1L206.8 58.3L209.9 62.6L212.8 67.2L215.6 72L218.2 76.9L220.6 82L222.9 87.3L225 92.9L226.9 98.5L228.7 104.4L230.4 110.5L231.8 116.7L233.2 123.2L234.3 129.8L235.3 136.6L239.7 136L238.6 129.1L237.4 122.4L236.1 115.8L234.5 109.4L232.8 103.3L231 97.3L228.9 91.4L226.7 85.8L224.4 80.4L221.8 75.1L219.1 70L216.2 65.1L213.2 60.4L210 55.9L206.6 51.6L203.1 47.5Z" fill="#5ed5c4"/>
<path d="M200.9 49.4L204.3 53.5L207.6 57.7L210.7 62.1L213.7 66.7L216.5 71.5L219.1 76.4L221.5 81.6L223.8 87L226 92.5L228 98.2L229.8 104.1L231.4 110.2L232.9 116.5L234.2 123L235.4 129.6L236.4 136.4L239.7 136L238.6 129.1L237.4 122.4L236.1 115.8L234.5 109.4L232.8 103.3L231 97.3L228.9 91.4L226.7 85.8L224.4 80.4L221.8 75.1L219.1 70L216.2 65.1L213.2 60.4L210 55.9L206.6 51.6L203.1 47.5Z" fill="#59cfbf"/>
<path d="M201.6 48.8L205.1 52.9L208.4 57.1L211.5 61.5L214.5 66.2L217.3 71L220 76L222.5 81.2L224.8 86.6L227 92.1L229 97.9L230.8 103.8L232.5 110L234 116.3L235.3 122.8L236.5 129.4L237.5 136.3L239.7 136L238.6 129.1L237.4 122.4L236.1 115.8L234.5 109.4L232.8 103.3L231 97.3L228.9 91.4L226.7 85.8L224.4 80.4L221.8 75.1L219.1 70L216.2 65.1L213.2 60.4L210 55.9L206.6 51.6L203.1 47.5Z" fill="#4dc0b2"/>
<path d="M202.3 48.2L205.8 52.2L209.2 56.5L212.4 61L215.4 65.7L218.2 70.5L220.9 75.5L223.4 80.8L225.8 86.2L227.9 91.8L230 97.6L231.8 103.6L233.5 109.7L235 116L236.4 122.6L237.6 129.3L238.6 136.2L239.7 136L238.6 129.1L237.4 122.4L236.1 115.8L234.5 109.4L232.8 103.3L231 97.3L228.9 91.4L226.7 85.8L224.4 80.4L221.8 75.1L219.1 70L216.2 65.1L213.2 60.4L210 55.9L206.6 51.6L203.1 47.5Z" fill="#38a59b"/>
<circle cx="230.3" cy="143.5" r="16.8" fill="url(#sph)"/>
<circle cx="79" cy="181" r="18.2" fill="url(#sph)"/>
<g transform="rotate(-3 138.8 104)"><path d="M82.8,104 V128.5 A56,18 0 0 0 194.8,128.5 V104 Z" fill="url(#guSideI)" filter="url(#grainR)"/><ellipse cx="138.8" cy="104" rx="56" ry="18" fill="url(#guTop)" filter="url(#grainR)"/></g>
<g>
<g>
<use href="#topP" fill="#78963e" y="11"/>
<use href="#topP" fill="#7b9941" y="10"/>
<use href="#topP" fill="#7e9c44" y="9"/>
<use href="#topP" fill="#809e46" y="8"/>
<use href="#topP" fill="#83a149" y="7"/>
<use href="#topP" fill="#86a44c" y="6"/>
<use href="#topP" fill="#89a74f" y="5"/>
<use href="#topP" fill="#8caa52" y="4"/>
<use href="#topP" fill="#8eac54" y="3"/>
<use href="#topP" fill="#91af57" y="2"/>
<use href="#topP" fill="#94b25a" y="1"/>
<use href="#topP" fill="#d9ff7c"/>
</g>
</g>
<circle cx="43" cy="72.8" r="18.0" fill="url(#sph)"/>
<circle cx="191.6" cy="44.3" r="16.6" fill="url(#sph)"/>
<g>
<path d="M60.6 63.2Q55.5 71 51.1 73.5L66 74L66 63.2Z" fill="#d9ff7c"/>
<path d="M51.1 73.4L66 73.6L66 84.5L51.1 84.5Z" fill="url(#sideG)"/>
<path d="M174.9 40.6Q183 47 193.4 46.1L173.4 56.2L168 50Z" fill="#d9ff7c"/>
<path d="M173.4 56.2L193.4 46.1L194 54.5L180 62.5Z" fill="url(#sideG)"/>
</g>
<g transform="translate(164,112.5) rotate(142.09) scale(1,-1)"><rect x="0" y="-8.75" width="101.4" height="17.5" fill="url(#tubeF)"/></g>
<circle cx="168.8" cy="106" r="19.7" fill="url(#sph)"/>
</g>
<g id="molMg">
<g filter="url(#grain)">
<use href="#botM" fill="#80a046" y="10"/>
<use href="#botM" fill="#82a248" y="9"/>
<use href="#botM" fill="#85a44a" y="8"/>
<use href="#botM" fill="#87a74b" y="7"/>
<use href="#botM" fill="#8aa94d" y="6"/>
<use href="#botM" fill="#8cab4f" y="5"/>
<use href="#botM" fill="#8fad51" y="4"/>
<use href="#botM" fill="#91b052" y="3"/>
<use href="#botM" fill="#94b254" y="2"/>
<use href="#botM" fill="#96b456" y="1"/>
<use href="#botM" fill="#b2d064"/>
</g>
<g transform="translate(227,83.6) rotate(157.86) scale(1,-1)"><path d="M0 -6L62.1 -7A4.2 7 0 0 1 62.1 7L0 6Z" fill="url(#tubeB)"/></g>
<path d="M81.2 57.5L78.2 61.1L75.3 64.9L72.6 68.9L70 73.1L67.6 77.5L65.3 82.1L63.1 86.8L61.1 91.7L59.3 96.9L57.5 102.2L55.9 107.7L54.5 113.4L53.2 119.3L52 125.4L51 131.7L50.2 138.2L31.8 135.8L32.9 128.9L34.1 122.1L35.5 115.5L37 109.1L38.7 102.9L40.6 96.8L42.7 90.9L44.9 85.3L47.3 79.7L49.8 74.4L52.6 69.3L55.5 64.4L58.5 59.6L61.8 55.1L65.2 50.7L68.8 46.5Z" fill="#60d3c3"/>
<path d="M80.3 56.7L77.3 60.4L74.4 64.2L71.6 68.3L69 72.5L66.5 76.9L64.2 81.5L62 86.3L60 91.3L58.1 96.5L56.3 101.8L54.7 107.4L53.2 113.1L51.9 119L50.8 125.2L49.7 131.5L48.9 138L31.8 135.8L32.9 128.9L34.1 122.1L35.5 115.5L37 109.1L38.7 102.9L40.6 96.8L42.7 90.9L44.9 85.3L47.3 79.7L49.8 74.4L52.6 69.3L55.5 64.4L58.5 59.6L61.8 55.1L65.2 50.7L68.8 46.5Z" fill="#86eedf"/>
<path d="M79.4 55.9L76.3 59.6L73.4 63.5L70.6 67.6L67.9 71.9L65.4 76.3L63.1 81L60.9 85.8L58.8 90.8L56.9 96L55.1 101.4L53.5 107L52 112.8L50.7 118.8L49.5 124.9L48.4 131.3L47.6 137.8L31.8 135.8L32.9 128.9L34.1 122.1L35.5 115.5L37 109.1L38.7 102.9L40.6 96.8L42.7 90.9L44.9 85.3L47.3 79.7L49.8 74.4L52.6 69.3L55.5 64.4L58.5 59.6L61.8 55.1L65.2 50.7L68.8 46.5Z" fill="#adf7ea"/>
<path d="M78.5 55.1L75.4 58.9L72.4 62.8L69.6 66.9L66.9 71.3L64.4 75.8L62 80.4L59.7 85.3L57.6 90.4L55.7 95.6L53.9 101L52.2 106.7L50.7 112.5L49.4 118.5L48.2 124.7L47.1 131.1L46.2 137.7L31.8 135.8L32.9 128.9L34.1 122.1L35.5 115.5L37 109.1L38.7 102.9L40.6 96.8L42.7 90.9L44.9 85.3L47.3 79.7L49.8 74.4L52.6 69.3L55.5 64.4L58.5 59.6L61.8 55.1L65.2 50.7L68.8 46.5Z" fill="#dcfcf5"/>
<path d="M77.6 54.3L74.5 58.1L71.5 62.1L68.6 66.3L65.9 70.6L63.3 75.2L60.9 79.9L58.6 84.8L56.5 89.9L54.5 95.2L52.7 100.7L51 106.3L49.5 112.2L48.1 118.2L46.9 124.5L45.8 130.9L44.9 137.5L31.8 135.8L32.9 128.9L34.1 122.1L35.5 115.5L37 109.1L38.7 102.9L40.6 96.8L42.7 90.9L44.9 85.3L47.3 79.7L49.8 74.4L52.6 69.3L55.5 64.4L58.5 59.6L61.8 55.1L65.2 50.7L68.8 46.5Z" fill="#7eebdb"/>
<path d="M76.8 53.6L73.6 57.4L70.5 61.4L67.6 65.6L64.8 70L62.2 74.6L59.8 79.3L57.5 84.3L55.3 89.4L53.3 94.8L51.5 100.3L49.8 106L48.2 111.9L46.9 118L45.6 124.2L44.5 130.7L43.6 137.3L31.8 135.8L32.9 128.9L34.1 122.1L35.5 115.5L37 109.1L38.7 102.9L40.6 96.8L42.7 90.9L44.9 85.3L47.3 79.7L49.8 74.4L52.6 69.3L55.5 64.4L58.5 59.6L61.8 55.1L65.2 50.7L68.8 46.5Z" fill="#79e9d8"/>
<path d="M75.9 52.8L72.6 56.7L69.5 60.7L66.6 64.9L63.8 69.4L61.2 74L58.7 78.8L56.3 83.8L54.2 89L52.1 94.3L50.3 99.9L48.6 105.6L47 111.6L45.6 117.7L44.3 124L43.3 130.5L42.3 137.2L31.8 135.8L32.9 128.9L34.1 122.1L35.5 115.5L37 109.1L38.7 102.9L40.6 96.8L42.7 90.9L44.9 85.3L47.3 79.7L49.8 74.4L52.6 69.3L55.5 64.4L58.5 59.6L61.8 55.1L65.2 50.7L68.8 46.5Z" fill="#74e7d5"/>
<path d="M75 52L71.7 55.9L68.6 60L65.6 64.3L62.8 68.8L60.1 73.4L57.6 78.2L55.2 83.3L53 88.5L51 93.9L49.1 99.5L47.3 105.3L45.8 111.2L44.3 117.4L43.1 123.8L42 130.3L41 137L31.8 135.8L32.9 128.9L34.1 122.1L35.5 115.5L37 109.1L38.7 102.9L40.6 96.8L42.7 90.9L44.9 85.3L47.3 79.7L49.8 74.4L52.6 69.3L55.5 64.4L58.5 59.6L61.8 55.1L65.2 50.7L68.8 46.5Z" fill="#6fe4d3"/>
<path d="M74.1 51.2L70.8 55.2L67.6 59.3L64.6 63.6L61.7 68.1L59 72.8L56.5 77.7L54.1 82.8L51.8 88L49.8 93.5L47.9 99.1L46.1 104.9L44.5 110.9L43.1 117.1L41.8 123.5L40.7 130.1L39.7 136.8L31.8 135.8L32.9 128.9L34.1 122.1L35.5 115.5L37 109.1L38.7 102.9L40.6 96.8L42.7 90.9L44.9 85.3L47.3 79.7L49.8 74.4L52.6 69.3L55.5 64.4L58.5 59.6L61.8 55.1L65.2 50.7L68.8 46.5Z" fill="#69e1cf"/>
<path d="M73.2 50.4L69.9 54.4L66.6 58.6L63.6 62.9L60.7 67.5L57.9 72.2L55.4 77.2L52.9 82.3L50.7 87.6L48.6 93.1L46.6 98.7L44.9 104.6L43.3 110.6L41.8 116.9L40.5 123.3L39.4 129.9L38.4 136.7L31.8 135.8L32.9 128.9L34.1 122.1L35.5 115.5L37 109.1L38.7 102.9L40.6 96.8L42.7 90.9L44.9 85.3L47.3 79.7L49.8 74.4L52.6 69.3L55.5 64.4L58.5 59.6L61.8 55.1L65.2 50.7L68.8 46.5Z" fill="#64dbca"/>
<path d="M72.4 49.7L68.9 53.7L65.7 57.9L62.6 62.3L59.6 66.9L56.9 71.6L54.2 76.6L51.8 81.8L49.5 87.1L47.4 92.6L45.4 98.3L43.6 104.2L42 110.3L40.5 116.6L39.2 123L38.1 129.7L37.1 136.5L31.8 135.8L32.9 128.9L34.1 122.1L35.5 115.5L37 109.1L38.7 102.9L40.6 96.8L42.7 90.9L44.9 85.3L47.3 79.7L49.8 74.4L52.6 69.3L55.5 64.4L58.5 59.6L61.8 55.1L65.2 50.7L68.8 46.5Z" fill="#5ed5c4"/>
<path d="M71.5 48.9L68 52.9L64.7 57.2L61.6 61.6L58.6 66.2L55.8 71.1L53.1 76.1L50.7 81.3L48.4 86.6L46.2 92.2L44.2 98L42.4 103.9L40.8 110L39.3 116.3L37.9 122.8L36.8 129.5L35.8 136.3L31.8 135.8L32.9 128.9L34.1 122.1L35.5 115.5L37 109.1L38.7 102.9L40.6 96.8L42.7 90.9L44.9 85.3L47.3 79.7L49.8 74.4L52.6 69.3L55.5 64.4L58.5 59.6L61.8 55.1L65.2 50.7L68.8 46.5Z" fill="#59cfbf"/>
<path d="M70.6 48.1L67.1 52.2L63.7 56.5L60.6 60.9L57.6 65.6L54.7 70.5L52 75.5L49.5 80.8L47.2 86.2L45 91.8L43 97.6L41.2 103.5L39.5 109.7L38 116L36.7 122.6L35.5 129.3L34.4 136.2L31.8 135.8L32.9 128.9L34.1 122.1L35.5 115.5L37 109.1L38.7 102.9L40.6 96.8L42.7 90.9L44.9 85.3L47.3 79.7L49.8 74.4L52.6 69.3L55.5 64.4L58.5 59.6L61.8 55.1L65.2 50.7L68.8 46.5Z" fill="#4dc0b2"/>
<path d="M69.7 47.3L66.2 51.4L62.8 55.8L59.6 60.3L56.5 65L53.6 69.9L50.9 75L48.4 80.3L46 85.7L43.8 91.4L41.8 97.2L40 103.2L38.3 109.4L36.7 115.8L35.4 122.3L34.2 129.1L33.1 136L31.8 135.8L32.9 128.9L34.1 122.1L35.5 115.5L37 109.1L38.7 102.9L40.6 96.8L42.7 90.9L44.9 85.3L47.3 79.7L49.8 74.4L52.6 69.3L55.5 64.4L58.5 59.6L61.8 55.1L65.2 50.7L68.8 46.5Z" fill="#38a59b"/>
<circle cx="42.7" cy="143.5" r="16.8" fill="url(#sphM)" filter="url(#grain)"/>
<circle cx="194" cy="181" r="18.2" fill="url(#sph)"/>
<g transform="rotate(6 135.3 100.5)"><path d="M79.3,100.5 V124.5 A56,19.5 0 0 0 191.3,124.5 V100.5 Z" fill="url(#guSideI)" filter="url(#grainR)"/><ellipse cx="135.3" cy="100.5" rx="56" ry="19.5" fill="url(#guTop)" filter="url(#grainR)"/></g>
<g transform="translate(0,-1.5)">
<g>
<use href="#topM" fill="#78963e" y="11"/>
<use href="#topM" fill="#7b9941" y="10"/>
<use href="#topM" fill="#7e9c44" y="9"/>
<use href="#topM" fill="#809e46" y="8"/>
<use href="#topM" fill="#83a149" y="7"/>
<use href="#topM" fill="#86a44c" y="6"/>
<use href="#topM" fill="#89a74f" y="5"/>
<use href="#topM" fill="#8caa52" y="4"/>
<use href="#topM" fill="#8eac54" y="3"/>
<use href="#topM" fill="#91af57" y="2"/>
<use href="#topM" fill="#94b25a" y="1"/>
<use href="#topM" fill="#d9ff7c"/>
</g>
</g>
<circle cx="230" cy="72.8" r="18.0" fill="url(#sph)"/>
<circle cx="81.4" cy="44.3" r="16.6" fill="url(#sph)"/>
<g transform="translate(0,-1.5)">
<path d="M212.4 63.2Q217.5 71 221.9 73.5L207 74L207 63.2Z" fill="#d9ff7c"/>
<path d="M221.9 73.4L207 73.6L207 84.5L221.9 84.5Z" fill="url(#sideG)"/>
<path d="M98.1 40.6Q90 47 79.6 46.1L99.6 56.2L105 50Z" fill="#d9ff7c"/>
<path d="M99.6 56.2L79.6 46.1L79 54.5L93 62.5Z" fill="url(#sideG)"/>
</g>
<g transform="translate(109,112.5) rotate(37.91)"><rect x="0" y="-8.75" width="101.4" height="17.5" fill="url(#tubeF)"/></g>
<circle cx="104.2" cy="106" r="19.7" fill="url(#sph)"/>
</g>
</defs>
<use href="#molP"/>
<use href="#molM" y="348"/>
<use href="#molP" x="497.2" y="0"/>
<use href="#molM" x="495.6" y="348"/>
<use href="#molPg" x="1033" y="0"/>
<use href="#molMg" x="1033" y="348"/>
<use href="#molPg" x="1524.4" y="0"/>
<use href="#molMg" x="1524.3" y="348"/>
<path d="M863.1,223.7 V247.7 A54.9,23 0 0 0 972.9,247.7 V223.7 Z" fill="url(#guSide)"/><ellipse cx="918" cy="223.7" rx="54.9" ry="23" fill="#ff8080"/>
<rect x="6" y="5.6" width="260.2" height="607.5" rx="23" fill="none" stroke="#00ff00" stroke-width="5.3"/>
<rect x="1530" y="5.6" width="260.4" height="607.5" rx="23" fill="none" stroke="#00ff00" stroke-width="5.3"/>
<rect x="472" y="21.5" width="290.3" height="200.4" rx="15" fill="none" stroke="#ff0000" stroke-width="6.5"/>
<rect x="1048.7" y="21.8" width="245.5" height="199.6" rx="14.5" fill="none" stroke="#ff0000" stroke-width="6.4"/>
<rect x="1039.8" y="6.06" width="260.3" height="605.8" rx="22" fill="none" stroke="#6a00ff" stroke-width="3.6" stroke-dasharray="2.6 2.45"/>
<path d="M278.5,303.6 H464.6 V291.2 L487.5,314.6 L464.6,338 V326.2 H278.5 Z" fill="#fff" stroke="#000" stroke-width="2.4" stroke-miterlimit="10"/>
<path d="M812.8,304.8 H1000.4 V292.8 L1021.8,315.65 L1000.4,338.5 V326.8 H812.8 Z" fill="#fff" stroke="#000" stroke-width="2.4" stroke-miterlimit="10"/>
<path d="M1311.3,304.8 H1497.4 V293.2 L1520,315.75 L1497.4,338.3 V326.6 H1311.3 Z" fill="#fff" stroke="#000" stroke-width="2.4" stroke-miterlimit="10"/>
<g font-size="27" fill="#000">
<text x="89" y="254.1">(<tspan font-style="italic">P</tspan>)-LNi<tspan font-size="21.5" dy="6.9">3</tspan></text>
<text x="86" y="601.2">(<tspan font-style="italic">M</tspan>)-LNi<tspan font-size="21.5" dy="6.9">3</tspan></text>
<text x="575" y="253.6">(<tspan font-style="italic">P</tspan>)-LNi<tspan font-size="21.5" dy="6.9">3</tspan><tspan font-weight="bold" font-size="27.5" dy="-6.9">A</tspan></text>
<text x="573" y="601">(<tspan font-style="italic">M</tspan>)-LNi<tspan font-size="21.5" dy="6.9">3</tspan><tspan font-weight="bold" font-size="27.5" dy="-6.9">A</tspan></text>
<text x="1102.5" y="253.1">(<tspan font-style="italic">P</tspan>)-LNi<tspan font-size="21.5" dy="6.9">3</tspan><tspan font-weight="bold" font-size="27.5" dy="-6.9">Gu</tspan></text>
<text x="1100" y="601.1">(<tspan font-style="italic">M</tspan>)-LNi<tspan font-size="21.5" dy="6.9">3</tspan><tspan font-weight="bold" font-size="27.5" dy="-6.9">Gu</tspan></text>
<text x="1592.5" y="253.5">(<tspan font-style="italic">P</tspan>)-LNi<tspan font-size="21.5" dy="6.9">3</tspan><tspan font-weight="bold" font-size="27.5" dy="-6.9">Gu</tspan></text>
<text x="1591" y="601.1">(<tspan font-style="italic">M</tspan>)-LNi<tspan font-size="21.5" dy="6.9">3</tspan><tspan font-weight="bold" font-size="27.5" dy="-6.9">Gu</tspan></text>
</g>
<g font-size="31.5" fill="#000">
<text x="79.4" y="321.2">(a)</text>
<text x="576" y="321">(b)</text>
<text x="1045.5" y="321.3">(c)</text>
<text x="1606" y="320.5">(d)</text>
</g>
<line x1="128.6" y1="270.3" x2="128.6" y2="343.5" stroke="#000" stroke-width="2.1"/>
<path d="M128.6,358.5 L121.5,332.7 L128.6,336.3 L135.7,332.7 Z" fill="#000"/>
<line x1="143.7" y1="285.3" x2="143.7" y2="358.5" stroke="#000" stroke-width="2.1"/>
<path d="M143.7,270.3 L136.6,296.1 L143.7,292.5 L150.79999999999998,296.1 Z" fill="#000"/>
<line x1="1652.4" y1="270.4" x2="1652.4" y2="343.6" stroke="#000" stroke-width="2.1"/>
<path d="M1652.4,358.6 L1645.3000000000002,332.8 L1652.4,336.40000000000003 L1659.5,332.8 Z" fill="#000"/>
<line x1="1666.9" y1="285.4" x2="1666.9" y2="358.6" stroke="#000" stroke-width="2.1"/>
<path d="M1666.9,270.4 L1659.8000000000002,296.2 L1666.9,292.59999999999997 L1674.0,296.2 Z" fill="#000"/>
<line x1="624" y1="292.4" x2="624" y2="321.3" stroke="#ff0000" stroke-width="2.1"/>
<path d="M624,336.3 L616.9,310.5 L624,314.1 L631.1,310.5 Z" fill="#ff0000"/>
<line x1="639" y1="285.4" x2="639" y2="358.2" stroke="#ff0000" stroke-width="2.1"/>
<path d="M639,270.4 L631.9,296.2 L639,292.59999999999997 L646.1,296.2 Z" fill="#ff0000"/>
<g font-size="27" font-weight="bold" font-style="italic">
<text x="18" y="36.7" fill="#00ff00">racemic</text>
<text x="1543" y="36.6" fill="#00ff00">racemic</text>
<text x="648" y="215" fill="#ff0000" letter-spacing="0.1">favored</text>
<text x="651" y="324.6" fill="#ff0000" font-style="normal"><tspan font-style="italic">P</tspan>-rich</text>
<text x="1188.5" y="308.8" fill="#6a00ff" text-anchor="middle" letter-spacing="0.3">nonequilibrated</text>
<text x="1188.5" y="341" fill="#6a00ff" text-anchor="middle" letter-spacing="0.3">mixture</text>
<g text-anchor="middle" fill="#000">
<text x="918.4" y="364">quick</text>
<text x="918.4" y="395">guest</text>
<text x="918.4" y="424.8">exchange</text>
<text x="1416" y="363">gradual</text>
<text x="1416" y="395.4">racemization</text>
</g></g>
<g font-size="27" font-weight="bold" fill="#000">
<text x="411" y="293.7">A</text>
<text x="935" y="294.4">Gu</text>
</g>
<ellipse cx="375" cy="240.5" rx="61" ry="31" fill="#fff" stroke="#000" stroke-width="2.6"/>
<g font-size="26.5" fill="#000"><text x="333" y="251.9">R</text><text x="372.5" y="251.9">NH<tspan font-size="20.5" dy="6.5">3</tspan></text><text x="328.2" y="240.3" font-size="25">*</text><text x="373.6" y="229.9" font-size="26">+</text></g>
<line x1="353.7" y1="241.1" x2="370.0" y2="241.1" stroke="#000" stroke-width="2.4"/>
<ellipse cx="544.5" cy="127" rx="61" ry="32.7" fill="#fff" stroke="#000" stroke-width="2.6"/>
<g font-size="26.5" fill="#000"><text x="502.8" y="139.3">R</text><text x="542.3" y="139.3">NH<tspan font-size="20.5" dy="6.5">3</tspan></text><text x="498.0" y="127.7" font-size="25">*</text><text x="543.4" y="117.3" font-size="26">+</text></g>
<line x1="523.5" y1="128.5" x2="539.8" y2="128.5" stroke="#000" stroke-width="2.4"/>
<ellipse cx="721.2" cy="473.7" rx="61" ry="31.5" fill="#fff" stroke="#000" stroke-width="2.6"/>
<g font-size="26.5" fill="#000"><text x="674.5" y="486.6">H<tspan font-size="20.5" dy="6.5">3</tspan><tspan dy="-6.5">N</tspan></text><text x="745.5" y="486.6">R</text><text x="757.8" y="475.2" font-size="25">*</text><text x="706.8" y="465.5" font-size="26">+</text></g>
<line x1="725.7" y1="476" x2="743.4" y2="476" stroke="#000" stroke-width="2.4"/>
<g stroke="#000" stroke-width="2.6" fill="none" stroke-linejoin="round" stroke-linecap="round">
<path d="M414.2,400.6 L442.8,417.1 L442.8,450.1 L414.2,466.6 L385.6,450.1 L385.6,417.1 Z"/>
<line x1="391.3" y1="442.6" x2="391.3" y2="424.6"/>
<line x1="417.9" y1="409.2" x2="433.5" y2="418.2"/>
<line x1="433.5" y1="449.0" x2="417.9" y2="458.0"/>
<path d="M414.2,466.6 L414.2,497.6 L386.9,514 L386.9,547.3 L367,557.7"/>
<line x1="386.9" y1="547.3" x2="404.6" y2="557.7"/>
<line x1="383.6" y1="552.8" x2="400.8" y2="562.8"/>
</g>
<path d="M367.5,501.5 L387.5,511.5 L385.5,516.5 Z" fill="#000" stroke="#000" stroke-width="1" stroke-linejoin="round"/>
<g font-size="25" fill="#000"><text x="321" y="509">H<tspan font-size="19" dy="5.5">3</tspan><tspan dy="-5.5">N</tspan></text><text x="350.5" y="486.5" font-size="26">+</text><text x="314.5" y="573.3">MeO</text><text x="404.5" y="573.3">O</text><text x="296" y="605" font-size="26.5" letter-spacing="0.35">chiral guest <tspan font-weight="bold">A</tspan></text></g>
</svg></body></html>
